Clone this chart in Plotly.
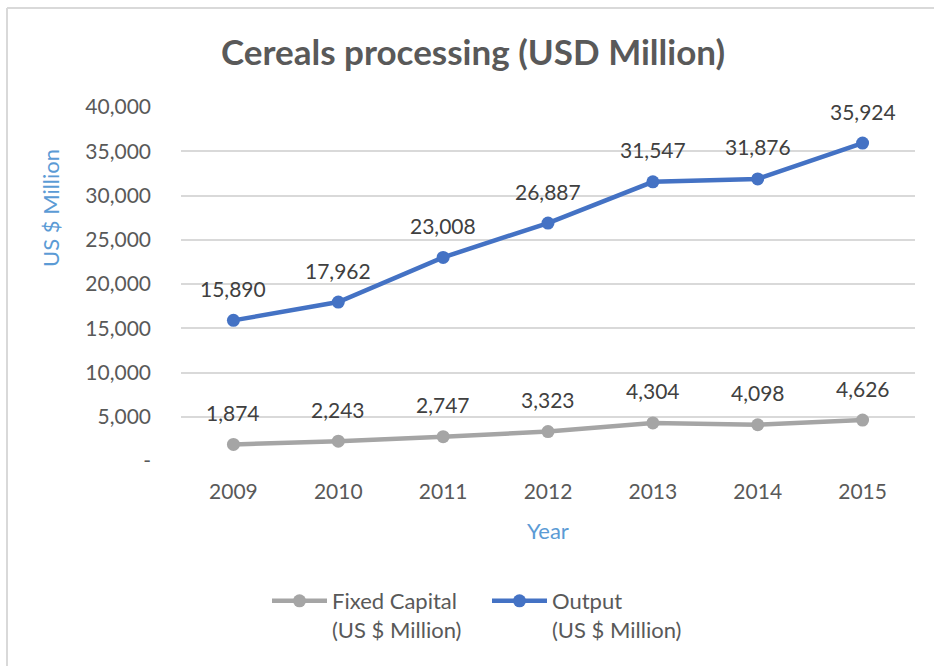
import plotly.graph_objects as go

years = [2009, 2010, 2011, 2012, 2013, 2014, 2015]
fixed_capital = [1874, 2243, 2747, 3323, 4304, 4098, 4626]
output = [15890, 17962, 23008, 26887, 31547, 31876, 35924]
y_ticks = [0, 5000, 10000, 15000, 20000, 25000, 30000, 35000, 40000]
y_tick_text = ["-"] + [f"{v:,}" for v in y_ticks[1:]]

FONT = "Lato"
TXT = "#595959"
W, H = 934, 666
L, R, T, B = 181, 19, 107, 205
pw, ph = W - L - R, H - T - B

def px_x(p):
    return (p - L) / pw

def px_y(p):
    return (H - B - p) / ph

fig = go.Figure()
fig.add_trace(go.Scatter(
    x=years, y=fixed_capital, mode="lines+markers",
    name="Fixed Capital<br>(US $ Million)",
    line=dict(color="#a5a5a5", width=4.5),
    marker=dict(size=13, color="#a5a5a5"),
))
fig.add_trace(go.Scatter(
    x=years, y=output, mode="lines+markers",
    name="Output<br>(US $ Million)",
    line=dict(color="#4472c4", width=4.5),
    marker=dict(size=13, color="#4472c4"),
))

# data labels
for series in (fixed_capital, output):
    for yr, v in zip(years, series):
        fig.add_annotation(x=yr, y=v, xref="x", yref="y", text=f"{v:,}", showarrow=False,
                           yshift=32, font=dict(family=FONT, size=21, color="#404040"))

# axis titles
fig.add_annotation(xref="paper", yref="paper", x=px_x(50), y=px_y(208),
                   xanchor="center", yanchor="middle",
                   text="US $ Million", textangle=-90, showarrow=False,
                   font=dict(family=FONT, size=22, color="#5b9bd5"))
fig.add_annotation(xref="paper", yref="paper", x=px_x(548), y=px_y(530),
                   xanchor="center", yanchor="middle",
                   text="Year", showarrow=False,
                   font=dict(family=FONT, size=22, color="#5b9bd5"))

# chart border (top and left only visible)
border = dict(color="#d9d9d9", width=2)
fig.add_shape(type="line", xref="paper", yref="paper",
              x0=px_x(7), y0=px_y(8), x1=px_x(W + 5), y1=px_y(8), line=border)
fig.add_shape(type="line", xref="paper", yref="paper",
              x0=px_x(7), y0=px_y(8), x1=px_x(7), y1=px_y(H + 5), line=border)

fig.update_layout(
    width=W, height=H,
    margin=dict(l=L, r=R, t=T, b=B, pad=0, autoexpand=False),
    paper_bgcolor="white", plot_bgcolor="white",
    font=dict(family=FONT, color=TXT),
    title=dict(text="<b>Cereals processing (USD Million)</b>",
               x=473 / W, xanchor="center",
               y=1 - 53 / H, yanchor="middle",
               font=dict(family=FONT, size=35, color=TXT)),
    showlegend=True,
    legend=dict(orientation="h", x=px_x(267), y=px_y(580), xanchor="left", yanchor="top",
                font=dict(family=FONT, size=22, color=TXT), valign="top",
                itemwidth=55, entrywidth=150, traceorder="normal"),
)
fig.update_xaxes(range=[2008.5, 2015.5], tickvals=years, showgrid=False, showline=False,
                 zeroline=False, ticks="",
                 tickfont=dict(family=FONT, size=21, color=TXT),
                 ticklabelstandoff=16)
fig.update_yaxes(range=[0, 40000], tickvals=y_ticks, ticktext=y_tick_text,
                 showgrid=True, gridcolor="#d9d9d9", gridwidth=1.5,
                 zeroline=False, showline=False, ticks="",
                 tickfont=dict(family=FONT, size=21, color=TXT),
                 ticklabelstandoff=29)

fig.write_html("out.html", config={"displayModeBar": False},
               post_script="document.body.style.margin='0';")
